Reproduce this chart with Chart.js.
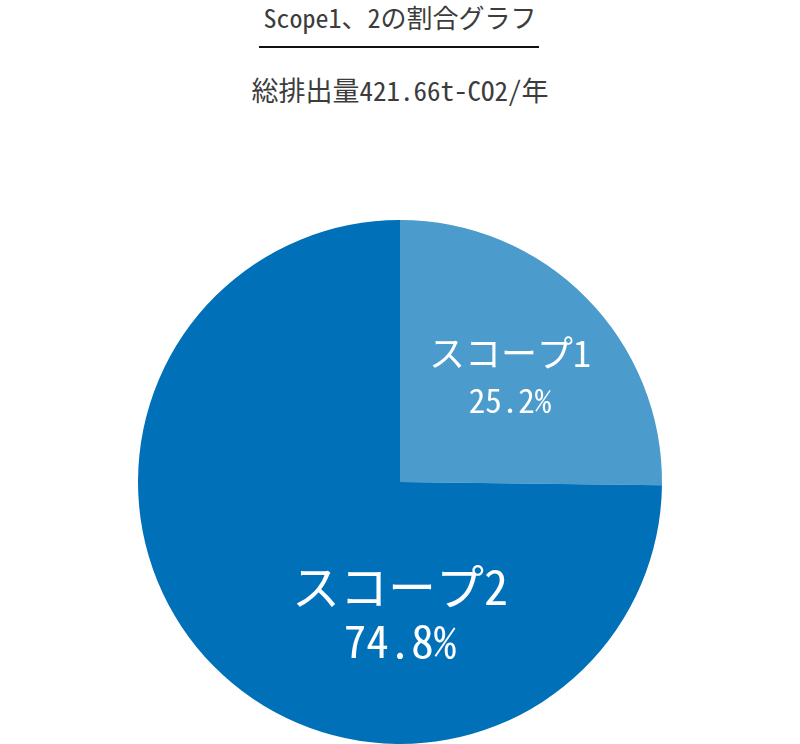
<!DOCTYPE html>
<html>
<head>
<meta charset="utf-8">
<script src="https://cdn.jsdelivr.net/npm/chart.js@4"></script>
<style>
	body { margin:0; background:#fff; width:800px; height:744px; overflow:hidden; position:relative; }
	.ttl { position:absolute; left:0; width:800px; text-align:center; color:#3c3c3c;
		font-family:"Noto Sans Mono CJK JP","Noto Sans CJK JP",monospace; font-size:26px; line-height:30px; }
	#t1 { top:2px; }
	#bar { position:absolute; left:259px; top:46px; width:280px; height:2px; background:#111; }
	#t2 { top:75px; font-size:27px; }
	#wrap { position:absolute; left:0; top:0; width:800px; height:744px; }
</style>
</head>
<body>
<div class="ttl" id="t1">Scope1、2の割合グラフ</div>
<div id="bar"></div>
<div class="ttl" id="t2">総排出量421.66t-CO2/年</div>
<div id="wrap"><canvas id="myChart" width="800" height="744"></canvas></div>
<script>
// データ
const labels = ['スコープ1', 'スコープ2'];
const ratio = [25.2, 74.8];
const colors = ['#4b9bcd', '#0071b9'];

const FONT = '"Noto Sans Mono CJK JP","Noto Sans CJK JP",monospace';

// 円の中にラベルを描く
const labelPlugin = {
	id: 'sliceLabels',
	afterDatasetsDraw(chart)
	{
		const ctx = chart.ctx;
		const arcs = chart.getDatasetMeta(0).data;
		ctx.save();
		ctx.fillStyle = '#fff';
		ctx.textAlign = 'center';
		ctx.textBaseline = 'alphabetic';
		arcs.forEach((arc, i) => {
			const r = arc.outerRadius;
			let x, y, s1, s2, gap;
			if (i == 0) {
				x = arc.x + r * 0.42; y = arc.y - r * 0.44;
				s1 = 36; s2 = 33; gap = 46;
			} else {
				x = arc.x; y = arc.y + r * 0.47;
				s1 = 48; s2 = 45; gap = 53;
			}
			ctx.font = s1 + 'px ' + FONT;
			ctx.fillText(labels[i], x, y);
			ctx.font = s2 + 'px ' + FONT;
			ctx.fillText(ratio[i] + '%', x, y + gap);
		});
		ctx.restore();
	}
};

const myChart = new Chart(document.getElementById('myChart').getContext('2d'), {
	type: 'pie',
	data: {
		labels: labels,
		datasets: [{
			data: ratio,
			backgroundColor: colors,
			borderWidth: 0
		}]
	},
	options: {
		responsive: false,
		animation: false,
		layout: { padding: { top: 220, bottom: 0 } },
		plugins: {
			legend: { display: false },
			tooltip: { enabled: false }
		}
	},
	plugins: [labelPlugin]
});
</script>
</body>
</html>
